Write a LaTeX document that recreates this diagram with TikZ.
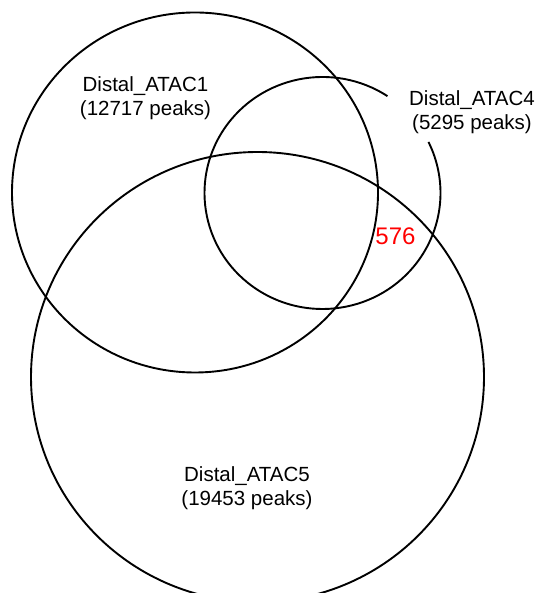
\documentclass[tikz,border=0pt]{standalone}
\usepackage{fontspec}
\setmainfont{Liberation Sans}
\begin{document}
\begin{tikzpicture}[x=1pt,y=1pt,
  setline/.style={line width=1.9pt, black},
  setlabel/.style={align=center, inner sep=0pt, font=\fontsize{20.5}{24}\selectfont},
  countlabel/.style={inner sep=0pt, text=red, font=\fontsize{24}{28}\selectfont}]
  \useasboundingbox (0,0) rectangle (536,593);
  \clip (0,0) rectangle (536,593);
  % centres of the three sets
  \coordinate (c1) at (195,400.5);
  \coordinate (c4) at (322.5,400);
  \coordinate (c5) at (257.5,216);
  % set outlines
  \draw[setline] (c1) ellipse [x radius=183, y radius=180];
  \draw[setline] (c5) ellipse [x radius=226.5, y radius=225];
  % ATAC4 outline, left open where its label sits
  \draw[setline] (c4) ++(56.6:118 and 116)
    arc [start angle=56.6, end angle=386.1, x radius=118, y radius=116];
  % labels
  \node[setlabel] (l1) at (145.5,494.3) {Distal\_ATAC1\\(12717 peaks)};
  \node[setlabel] (l4) at (472,481) {Distal\_ATAC4\\(5295 peaks)};
  \node[setlabel] (l5) at (247,104.7) {Distal\_ATAC5\\(19453 peaks)};
  \node[countlabel] (n45) at (395.5,356.5) {576};
\end{tikzpicture}
\end{document}
